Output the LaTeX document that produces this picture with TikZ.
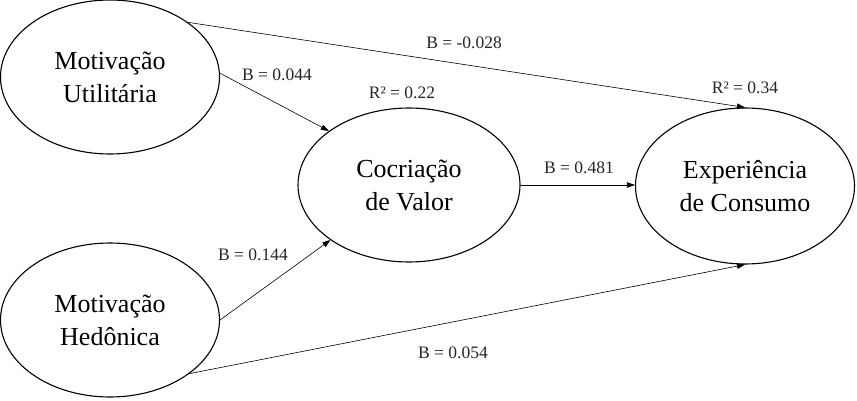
\documentclass[tikz,border=0pt]{standalone}
\usepackage{fontspec}
\setmainfont{Liberation Serif}
\usetikzlibrary{shapes.geometric,arrows.meta}
\begin{document}
\begin{tikzpicture}[x=1pt,y=1pt,
  construct/.style={draw, line width=1.1pt, ellipse, minimum width=219pt, minimum height=154pt, inner sep=0pt, align=center, font=\fontsize{26}{33}\selectfont},
  path/.style={draw, line width=0.6pt, -{Triangle[length=8pt,width=5.5pt]}},
  coef/.style={font=\fontsize{17.5}{20}\selectfont, text=black!85}]
\useasboundingbox (0,0) rectangle (857,400);
\node[construct] (U) at (110,323) {Motivação\\Utilitária};
\node[construct] (H) at (110,80) {Motivação\\Hedônica};
\node[construct, minimum width=222pt] (C) at (409,215) {Cocriação\\de Valor};
\node[construct, minimum height=156pt] (E) at (745,214) {Experiência\\de Consumo};
\draw[path] (U.2) -- (C.146);
\draw[path] (U.35) -- (E.90);
\draw[path] (H.0) -- (C.215);
\draw[path] (H.326) -- (E.270);
\draw[path] (C.east) -- (E.west |- C.east);
\node[coef] (l1) at (277,325) {B = 0.044};
\node[coef] (l2) at (402,307) {R² = 0.22};
\node[coef] (l3) at (464,357) {B = -0.028};
\node[coef] (l4) at (745,312) {R² = 0.34};
\node[coef] (l5) at (579,232) {B = 0.481};
\node[coef] (l6) at (253,145) {B = 0.144};
\node[coef] (l7) at (453,47) {B = 0.054};
\end{tikzpicture}
\end{document}
